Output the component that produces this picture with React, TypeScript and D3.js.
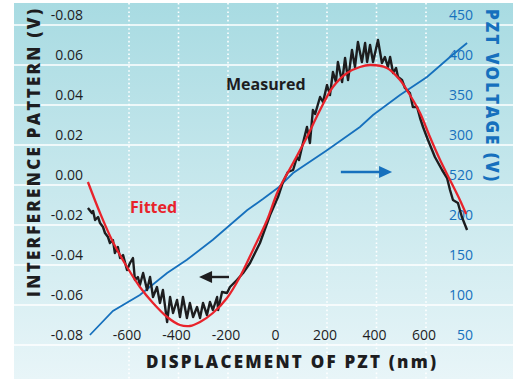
import React from "react";
import * as d3 from "d3";

// displacement (nm) and interference signal (V)
const measuredNm = [
  -766, -750, -745, -737, -725, -717, -705, -697, -685, -677, -665, -657, -645, -636, -624, -608,
  -596, -584, -576, -564, -556, -543, -527, -515, -503, -487, -475, -463, -446, -434, -422, -406,
  -394, -382, -366, -354, -341, -325, -313, -301, -285, -273, -261, -244, -240, -224, -204, -192,
  -164, -139, -111, -71, -30, 2, 22, 42, 63, 79, 87, 99, 119, 131, 143, 152, 172, 184, 200, 212,
  224, 236, 244, 261, 273, 285, 301, 313, 325, 341, 354, 362, 374, 386, 406, 422, 434, 446, 455,
  467, 479, 487, 503, 515, 535, 547, 564, 576, 588, 608, 636, 665, 685, 697, 709, 729, 745, 766,
];
const measuredV = [
  -0.0165, -0.019, -0.018, -0.0225, -0.021, -0.024, -0.026, -0.029, -0.031, -0.034, -0.0325, -0.039,
  -0.036, -0.0415, -0.04, -0.0475, -0.044, -0.0415, -0.0525, -0.051, -0.055, -0.049, -0.0575, -0.051,
  -0.061, -0.056, -0.064, -0.0575, -0.0735, -0.061, -0.069, -0.0625, -0.071, -0.061, -0.0715, -0.064,
  -0.071, -0.066, -0.0715, -0.064, -0.07, -0.0635, -0.0675, -0.061, -0.0675, -0.0585, -0.059, -0.056,
  -0.0525, -0.049, -0.044, -0.034, -0.02, -0.011, -0.0035, 0.0015, 0.0025, 0.009, 0.0075, 0.014,
  0.024, 0.016, 0.0325, 0.0305, 0.039, 0.0365, 0.045, 0.04, 0.0515, 0.0465, 0.0565, 0.0465, 0.0585,
  0.0475, 0.0625, 0.054, 0.0665, 0.0565, 0.066, 0.0565, 0.065, 0.0565, 0.0675, 0.056, 0.059, 0.054,
  0.059, 0.051, 0.0535, 0.049, 0.0475, 0.0435, 0.041, 0.034, 0.034, 0.0285, 0.024, 0.0175, 0.009,
  0.0025, -0.0015, -0.0075, -0.0125, -0.014, -0.021, -0.0275,
];

const fittedNm = [
  -766, -717, -665, -608, -556, -503, -446, -394, -354, -313, -261, -204, -152, -99, -42, 2, 63, 119,
  172, 224, 281, 333, 374, 442, 495, 535, 576, 616, 657, 697, 737, 762,
];
const fittedV = [
  -0.0035, -0.019, -0.0335, -0.046, -0.056, -0.064, -0.071, -0.075, -0.0755, -0.0735, -0.069, -0.0615,
  -0.051, -0.0375, -0.0225, -0.008, 0.006, 0.019, 0.0325, 0.044, 0.051, 0.054, 0.055, 0.0535, 0.0475,
  0.04, 0.031, 0.019, 0.0075, -0.0025, -0.0125, -0.0195,
];

const pztNm = [-758, -665, -556, -446, -366, -261, -123, -59, 2, 63, 200, 333, 386, 495, 604, 697, 766];
const pztVolt = [50, 80, 100, 127.5, 144, 169, 206, 220, 234, 252.5, 281, 310, 325, 350, 372.5, 397.5, 415];

const xTicks = [-600, -400, -200, 0, 200, 400, 600];
const leftTicks = [-0.08, -0.06, -0.04, -0.02, 0, 0.02, 0.04, 0.06, 0.08];
const leftTickLabels = ["-0.08", "-0.06", "-0.04", "-0.02", "0.00", "0.02", "0.04", "0.06", "-0.08"];
const rightTicks = [50, 100, 150, 200, 250, 300, 350, 400, 450];
const rightTickLabels = ["50", "100", "150", "200", "520", "300", "350", "400", "450"];

const W = 513;
const H = 382;
const FONT = "'Open Sans', 'Noto Sans', sans-serif";
const RED = "#e8232b";
const BLUE = "#1670bd";
const INK = "#1d1d1f";

const App = () => {
  const x = d3.scaleLinear().domain([-600, 600]).range([129, 426]);
  const yL = d3.scaleLinear().domain([-0.08, 0.08]).range([335, 15]);
  const yR = d3.scaleLinear().domain([50, 450]).range([335, 15]);

  const panel = { left: 14, top: 3, right: W, bottom: 379 };

  const measured = measuredNm.map((d, i) => [d, measuredV[i]] as [number, number]);
  const fitted = fittedNm.map((d, i) => [d, fittedV[i]] as [number, number]);
  const pzt = pztNm.map((d, i) => [d, pztVolt[i]] as [number, number]);

  const lineL = d3
    .line<[number, number]>()
    .x((d) => x(d[0]))
    .y((d) => yL(d[1]));
  const smoothL = d3
    .line<[number, number]>()
    .x((d) => x(d[0]))
    .y((d) => yL(d[1]))
    .curve(d3.curveCatmullRom.alpha(0.5));
  const lineR = d3
    .line<[number, number]>()
    .x((d) => x(d[0]))
    .y((d) => yR(d[1]));

  // arrows: blue points right (PZT axis), black points left (signal axis)
  const bx0 = x(256), bx1 = x(463), by = yL(0.0015);
  const kx0 = x(-196), kx1 = x(-317), ky = yL(-0.051);

  return (
    <svg width={W} height={H} style={{ position: "absolute", left: 0, top: 0 }} fontFamily={FONT}>
      <defs>
        <linearGradient id="bg" x1="0" y1="0" x2="0" y2="1">
          <stop offset="0" stopColor="#a8dbe2" />
          <stop offset="1" stopColor="#e8f5f8" />
        </linearGradient>
      </defs>
      <rect x={0} y={0} width={W} height={H} fill="#fff" />
      <rect
        x={panel.left}
        y={panel.top}
        width={panel.right - panel.left}
        height={panel.bottom - panel.top}
        fill="url(#bg)"
      />

      {/* grid */}
      {leftTicks.map((t) => (
        <line
          key={"h" + t}
          x1={panel.left}
          x2={panel.right}
          y1={yL(t) + 10}
          y2={yL(t) + 10}
          stroke="#fff"
          strokeWidth={1.6}
        />
      ))}
      {xTicks.map((t) => (
        <line
          key={"v" + t}
          x1={x(t)}
          x2={x(t)}
          y1={panel.top}
          y2={panel.bottom}
          stroke="#fff"
          strokeWidth={1.6}
          strokeDasharray="1.6,2.6"
        />
      ))}

      {/* tick labels */}
      {leftTicks.map((t, i) => (
        <text key={"l" + t} x={83} y={yL(t)} dy="0.35em" textAnchor="end" fontSize={14} fill={INK}>
          {leftTickLabels[i]}
        </text>
      ))}
      {rightTicks.map((t, i) => (
        <text key={"r" + t} x={473} y={yR(t)} dy="0.35em" textAnchor="end" fontSize={14} fill={BLUE}>
          {rightTickLabels[i]}
        </text>
      ))}
      {xTicks.map((t) => (
        <text key={"x" + t} x={x(t) - 2} y={yL(-0.08)} dy="0.35em" textAnchor="middle" fontSize={14} fill={INK}>
          {t}
        </text>
      ))}

      {/* series */}
      <path d={lineR(pzt) || ""} fill="none" stroke={BLUE} strokeWidth={1.8} />
      <path d={lineL(measured) || ""} fill="none" stroke={INK} strokeWidth={2.4} strokeLinejoin="round" />
      <path d={smoothL(fitted) || ""} fill="none" stroke={RED} strokeWidth={2.3} />

      {/* arrows */}
      <line x1={bx0} x2={bx1 - 10} y1={by} y2={by} stroke={BLUE} strokeWidth={2.4} />
      <path d={`M${bx1},${by} L${bx1 - 13},${by - 6} L${bx1 - 13},${by + 6} Z`} fill={BLUE} />
      <line x1={kx0} x2={kx1 + 10} y1={ky} y2={ky} stroke={INK} strokeWidth={2.4} />
      <path d={`M${kx1},${ky} L${kx1 + 13},${ky - 6} L${kx1 + 13},${ky + 6} Z`} fill={INK} />

      {/* series labels */}
      <text x={x(-208)} y={yL(0.0455)} dy="0.35em" fontSize={16} fontWeight="bold" fill={INK}>
        Measured
      </text>
      <text x={x(-596)} y={yL(-0.016)} dy="0.35em" fontSize={16} fontWeight="bold" fill={RED}>
        Fitted
      </text>

      {/* axis titles */}
      <text
        transform="translate(34,153) rotate(-90)"
        textAnchor="middle"
        dy="0.36em"
        fontSize={17}
        fontWeight={800}
        textLength={288}
        lengthAdjust="spacing"
        fill={INK}
      >
        INTERFERENCE PATTERN (V)
      </text>
      <text
        transform="translate(492,95) rotate(90)"
        textAnchor="middle"
        dy="0.36em"
        fontSize={17}
        fontWeight={800}
        textLength={172}
        lengthAdjust="spacing"
        fill={BLUE}
      >
        PZT VOLTAGE (V)
      </text>
      <text
        x={291}
        y={362}
        dy="0.36em"
        textAnchor="middle"
        fontSize={17}
        fontWeight={800}
        textLength={290}
        lengthAdjust="spacing"
        fill={INK}
      >
        DISPLACEMENT OF PZT (nm)
      </text>
    </svg>
  );
};

export default App;
